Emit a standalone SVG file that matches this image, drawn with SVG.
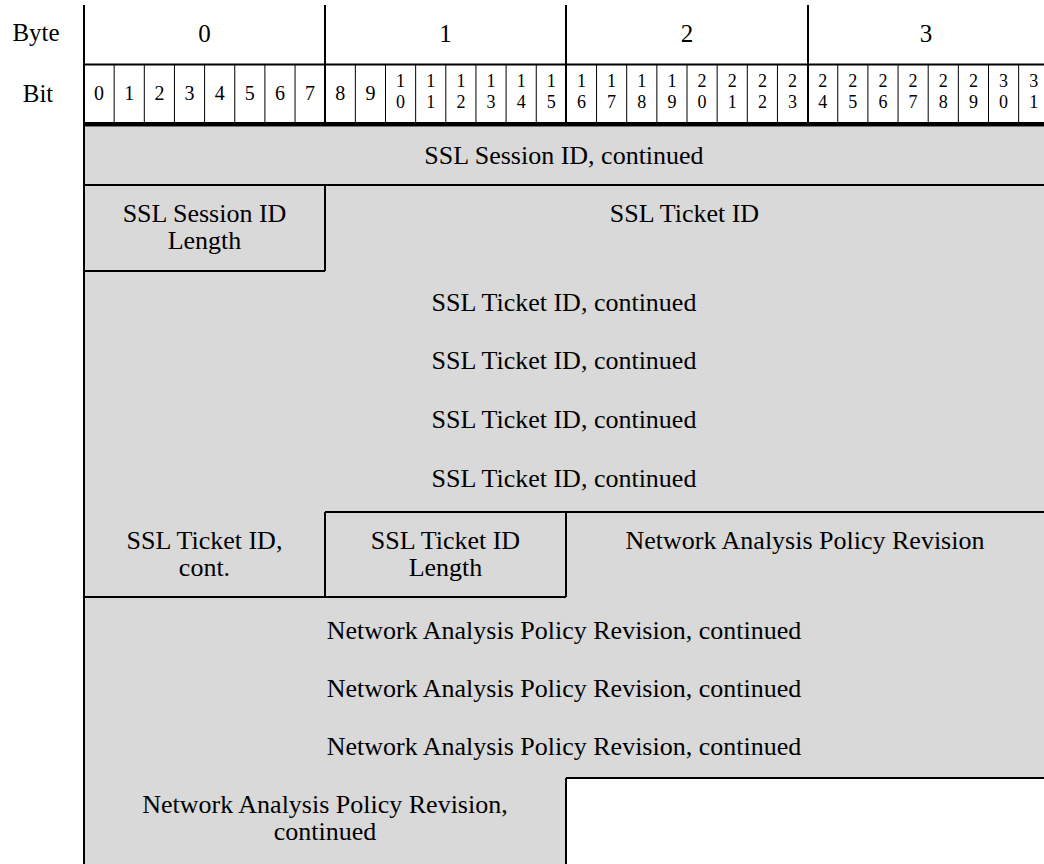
<svg xmlns="http://www.w3.org/2000/svg" width="1044" height="864" viewBox="0 0 1044 864">
<style>
.t{font-family:"Liberation Serif","Times New Roman",serif;font-size:26px;fill:#000;text-anchor:middle}
.lbl{font-family:"Liberation Serif","Times New Roman",serif;font-size:25px;fill:#000;text-anchor:middle}
.b{font-family:"Liberation Serif","Times New Roman",serif;font-size:20px;fill:#000;text-anchor:middle}
.s{font-family:"Liberation Serif","Times New Roman",serif;font-size:18px;fill:#000;text-anchor:middle}
.ln{stroke:#000;stroke-width:2;fill:none}
.thin{stroke:#000;stroke-width:1;fill:none}
</style>
<rect width="1044" height="864" fill="#fff"/>
<g id="fill">
<polygon points="84,126.5 1044,126.5 1044,778 566,778 566,864 84,864" fill="#d9d9d9"/>
</g>
<g id="header">
<text class="lbl" x="36" y="41">Byte</text>
<text class="lbl" x="38" y="102">Bit</text>
<text class="lbl" x="204.5" y="42">0</text>
<text class="lbl" x="445.5" y="42">1</text>
<text class="lbl" x="687" y="42">2</text>
<text class="lbl" x="926" y="42">3</text>
<g class="thin">
<path d="M114.15,64V122M144.3,64V122M174.45,64V122M204.6,64V122M234.75,64V122M264.9,64V122M295.05,64V122
M355.35,64V122M385.5,64V122M415.65,64V122M445.8,64V122M475.95,64V122M506.1,64V122M536.25,64V122
M596.55,64V122M626.7,64V122M656.85,64V122M687,64V122M717.15,64V122M747.3,64V122M777.45,64V122
M837.75,64V122M867.9,64V122M898.05,64V122M928.2,64V122M958.35,64V122M988.5,64V122M1018.65,64V122"/>
</g>
<g class="ln">
<path d="M84,5V864M325,5V122M566,5V122M808,5V122M84,64.5H1044"/>
</g>
<path d="M83,124.3H1044" stroke="#000" stroke-width="4.6"/>
<g class="b">
<text x="99.1" y="100">0</text><text x="129.2" y="100">1</text><text x="159.4" y="100">2</text><text x="189.5" y="100">3</text>
<text x="219.7" y="100">4</text><text x="249.8" y="100">5</text><text x="280" y="100">6</text><text x="310.1" y="100">7</text>
<text x="340.3" y="100">8</text><text x="370.4" y="100">9</text>
</g>
<g class="s">
<text x="400.6" y="86.5">1</text><text x="400.6" y="107.5">0</text>
<text x="430.7" y="86.5">1</text><text x="430.7" y="107.5">1</text>
<text x="460.9" y="86.5">1</text><text x="460.9" y="107.5">2</text>
<text x="491" y="86.5">1</text><text x="491" y="107.5">3</text>
<text x="521.2" y="86.5">1</text><text x="521.2" y="107.5">4</text>
<text x="551.3" y="86.5">1</text><text x="551.3" y="107.5">5</text>
<text x="581.5" y="86.5">1</text><text x="581.5" y="107.5">6</text>
<text x="611.6" y="86.5">1</text><text x="611.6" y="107.5">7</text>
<text x="641.8" y="86.5">1</text><text x="641.8" y="107.5">8</text>
<text x="671.9" y="86.5">1</text><text x="671.9" y="107.5">9</text>
<text x="702.1" y="86.5">2</text><text x="702.1" y="107.5">0</text>
<text x="732.2" y="86.5">2</text><text x="732.2" y="107.5">1</text>
<text x="762.4" y="86.5">2</text><text x="762.4" y="107.5">2</text>
<text x="792.5" y="86.5">2</text><text x="792.5" y="107.5">3</text>
<text x="822.7" y="86.5">2</text><text x="822.7" y="107.5">4</text>
<text x="852.8" y="86.5">2</text><text x="852.8" y="107.5">5</text>
<text x="883" y="86.5">2</text><text x="883" y="107.5">6</text>
<text x="913.1" y="86.5">2</text><text x="913.1" y="107.5">7</text>
<text x="943.3" y="86.5">2</text><text x="943.3" y="107.5">8</text>
<text x="973.4" y="86.5">2</text><text x="973.4" y="107.5">9</text>
<text x="1003.6" y="86.5">3</text><text x="1003.6" y="107.5">0</text>
<text x="1033.7" y="86.5">3</text><text x="1033.7" y="107.5">1</text>
</g>
</g>
<g id="connectors" class="ln">
<path d="M84,185H1044"/>
<path d="M325,185V271M84,271H325"/>
<path d="M325,512H1044M325,512V597M566,512V597M84,597H566"/>
<path d="M566,778H1044M566,778V864"/>
</g>
<g id="ssl-session-id-cont"><text class="t" x="564" y="164">SSL Session ID, continued</text></g>
<g id="ssl-session-id-length"><text class="t" x="204.5" y="222">SSL Session ID<tspan x="204.5" dy="27">Length</tspan></text></g>
<g id="ssl-ticket-id"><text class="t" x="684.5" y="222">SSL Ticket ID</text></g>
<g id="ssl-ticket-id-cont1"><text class="t" x="564" y="311">SSL Ticket ID, continued</text></g>
<g id="ssl-ticket-id-cont2"><text class="t" x="564" y="369">SSL Ticket ID, continued</text></g>
<g id="ssl-ticket-id-cont3"><text class="t" x="564" y="428">SSL Ticket ID, continued</text></g>
<g id="ssl-ticket-id-cont4"><text class="t" x="564" y="487">SSL Ticket ID, continued</text></g>
<g id="ssl-ticket-id-cont5"><text class="t" x="204.5" y="549">SSL Ticket ID,<tspan x="204.5" dy="27">cont.</tspan></text></g>
<g id="ssl-ticket-id-length"><text class="t" x="445.5" y="549">SSL Ticket ID<tspan x="445.5" dy="27">Length</tspan></text></g>
<g id="napr"><text class="t" x="805" y="549">Network Analysis Policy Revision</text></g>
<g id="napr-cont1"><text class="t" x="564" y="639">Network Analysis Policy Revision, continued</text></g>
<g id="napr-cont2"><text class="t" x="564" y="697">Network Analysis Policy Revision, continued</text></g>
<g id="napr-cont3"><text class="t" x="564" y="755">Network Analysis Policy Revision, continued</text></g>
<g id="napr-cont4"><text class="t" x="325" y="813">Network Analysis Policy Revision,<tspan x="325" dy="27">continued</tspan></text></g>
</svg>
